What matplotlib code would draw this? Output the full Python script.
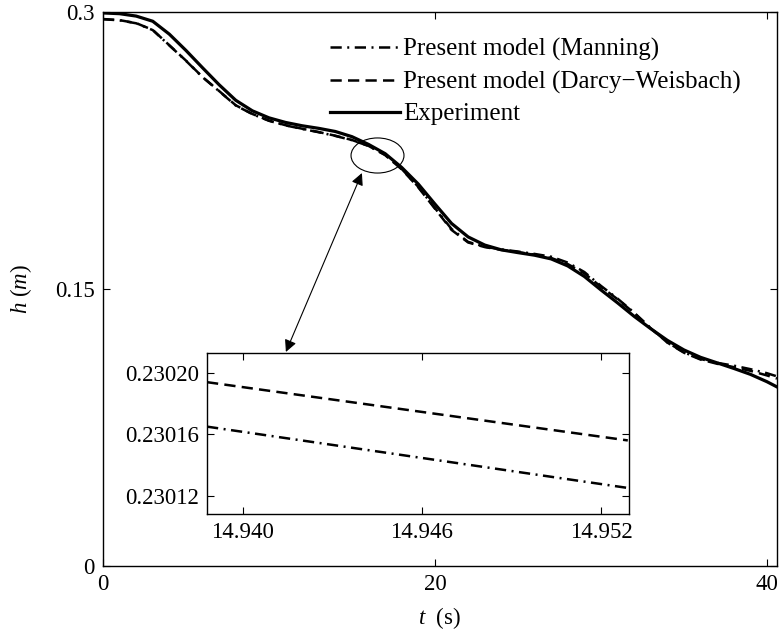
import matplotlib
matplotlib.use("Agg")
import matplotlib.pyplot as plt
from matplotlib.patches import Ellipse
from matplotlib.ticker import FormatStrFormatter

plt.rcParams['font.family'] = ['Liberation Serif', 'DejaVu Serif']
plt.rcParams['mathtext.fontset'] = 'custom'
plt.rcParams['mathtext.rm'] = 'Liberation Serif'
plt.rcParams['mathtext.it'] = 'Liberation Serif:italic'

# ---- data ----
t = [0, 1, 2, 3, 4, 5, 6, 7, 8, 9, 10, 11, 12, 13, 14, 15, 16, 17, 18, 19, 20,
     21, 22, 23, 24, 25, 26, 27, 28, 29, 30, 31, 32, 33, 34, 35, 36, 37, 38, 39, 40, 40.6]
h_exp = [0.2995, 0.2991, 0.2978, 0.2950, 0.2880, 0.2792, 0.2698, 0.2606, 0.2522, 0.2465,
         0.2427, 0.2402, 0.2384, 0.2370, 0.2353, 0.2325, 0.2283, 0.2233, 0.2158, 0.2068,
         0.1960, 0.1855, 0.1782, 0.1738, 0.1712, 0.1697, 0.1683, 0.1663, 0.1625, 0.1568,
         0.1495, 0.1425, 0.1352, 0.1285, 0.1222, 0.1170, 0.1130, 0.1100, 0.1070, 0.1038,
         0.0998, 0.0970]
h_darcy = [0.2962, 0.2956, 0.2940, 0.2903, 0.2820, 0.2737, 0.2648, 0.2572, 0.2495, 0.2448,
           0.2412, 0.2387, 0.2368, 0.2350, 0.2330, 0.2307, 0.2275, 0.2225, 0.2148, 0.2050,
           0.1935, 0.1820, 0.1752, 0.1727, 0.1712, 0.1700, 0.1686, 0.1668, 0.1635, 0.1585,
           0.1512, 0.1445, 0.1370, 0.1287, 0.1210, 0.1155, 0.1118, 0.1095, 0.1077, 0.1057,
           0.1032, 0.1015]
h_manning = [0.2961, 0.2955, 0.2939, 0.2902, 0.2819, 0.2736, 0.2647, 0.2571, 0.2494, 0.2447,
             0.2411, 0.2386, 0.2367, 0.2349, 0.2329, 0.2306, 0.2275, 0.2227, 0.2150, 0.2053,
             0.1938, 0.1825, 0.1755, 0.1729, 0.1714, 0.1703, 0.1690, 0.1675, 0.1643, 0.1592,
             0.1517, 0.1448, 0.1372, 0.1288, 0.1211, 0.1157, 0.1121, 0.1100, 0.1085, 0.1066,
             0.1044, 0.1027]

t_inset = [14.9388, 14.9529]
darcy_inset = [0.230194, 0.230156]
manning_inset = [0.230165, 0.230125]

xticks_main = [0, 20, 40]
yticks_main = [0, 0.15, 0.3]
ytick_labels_main = ['0', '0.15', '0.3']
xticks_inset = [14.940, 14.946, 14.952]
yticks_inset = [0.23012, 0.23016, 0.23020]

labels = ['Present model (Manning)', 'Present model (Darcy\u2212Weisbach)', 'Experiment']

FS = 16.5
LFS = 18
dashdot = (0, (4.5, 2.2, 0.8, 2.2))
dashed = (0, (4.5, 2.5))

fig = plt.figure(figsize=(7.8, 6.36), dpi=100)
ax = fig.add_axes([0.132, 0.1101, 0.864, 0.871])

ax.plot(t, h_manning, color='black', lw=1.8, linestyle=dashdot, label=labels[0])
ax.plot(t, h_darcy, color='black', lw=1.8, linestyle=dashed, label=labels[1])
ax.plot(t, h_exp, color='black', lw=2.3, linestyle='-', label=labels[2])

ax.set_xlim(0, 40.6)
ax.set_ylim(0, 0.3)
ax.set_xticks(xticks_main)
ax.set_yticks(yticks_main)
ax.set_yticklabels(ytick_labels_main)
ax.tick_params(direction='in', top=True, right=True, length=5, width=0.8, labelsize=FS, pad=6)
for s in ax.spines.values():
    s.set_linewidth(1.0)
ax.set_xlabel('$t$  (s)', fontsize=FS, labelpad=7)
ax.set_ylabel('$h$ ($m$)', fontsize=FS, labelpad=15)

leg = ax.legend(loc='upper left', bbox_to_anchor=(0.337, 0.9526), frameon=False,
                fontsize=LFS, handlelength=2.8, handletextpad=0.12, borderpad=0,
                borderaxespad=0, labelspacing=0.37)

# ellipse highlighting zoomed region
ell = Ellipse((16.54, 0.2223), 3.19, 0.0190, fill=False, edgecolor='black', lw=0.8)
ax.add_patch(ell)

# double-headed arrow from ellipse to inset
ax.annotate('', xy=(15.6, 0.2128), xytext=(11.02, 0.1159),
            arrowprops=dict(arrowstyle='<|-|>', color='black', lw=0.8,
                            mutation_scale=18, shrinkA=0, shrinkB=0))

# inset
axi = fig.add_axes([0.2654, 0.1918, 0.541, 0.2531])
axi.plot(t_inset, darcy_inset, color='black', lw=1.8, linestyle=dashed)
axi.plot(t_inset, manning_inset, color='black', lw=1.8, linestyle=dashdot)
axi.set_xlim(14.9388, 14.95294)
axi.set_ylim(0.230108, 0.230213)
axi.set_xticks(xticks_inset)
axi.set_yticks(yticks_inset)
axi.xaxis.set_major_formatter(FormatStrFormatter('%.3f'))
axi.yaxis.set_major_formatter(FormatStrFormatter('%.5f'))
axi.tick_params(direction='in', top=True, right=True, length=5, width=0.8, labelsize=FS, pad=6)
for s in axi.spines.values():
    s.set_linewidth(1.0)

fig.savefig('out.png', dpi=100)
